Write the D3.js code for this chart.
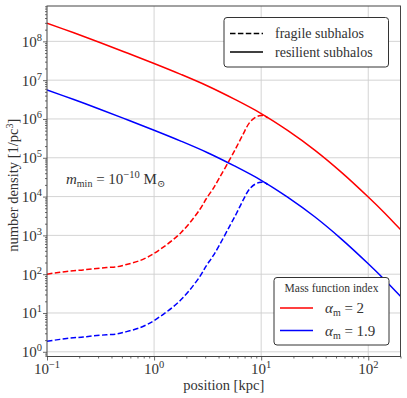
<!DOCTYPE html>
<html><head><meta charset="utf-8">
<script src="https://cdn.jsdelivr.net/npm/d3@7"></script>
<style>body{margin:0;background:#fff} text{font-family:"Liberation Serif","DejaVu Serif",serif;fill:#333}</style>
</head><body><svg id="c" width="407" height="398"></svg>
<script>
// ---- data ----
const positionsSolid = [0.1, 0.178, 0.316, 0.562, 1, 1.778, 3.162, 5.623, 10, 17.78, 31.62, 56.23, 100, 141.3, 200];
const resilientAlpha2 = [2.95e8, 1.66e8, 9.23e7, 5.01e7, 2.69e7, 1.41e7, 7.08e6, 3.24e6, 1.38e6, 5.01e5, 1.58e5, 4.22e4, 9.77e3, 3.85e3, 1.41e3];
const resilientAlpha19 = [5.62e6, 3.16e6, 1.76e6, 9.55e5, 5.13e5, 2.69e5, 1.35e5, 6.17e4, 2.63e4, 9.55e3, 3.02e3, 804, 186, 73.3, 26.9];
const positionsFragile = [0.1, 0.132, 0.176, 0.218, 0.270, 0.360, 0.446, 0.553, 0.736, 0.912, 1.0, 1.21, 1.50, 1.78, 2.15, 2.69, 3.08, 3.55, 4.09, 5.08, 5.89, 6.76, 7.76, 8.91, 10, 10.7, 11.5];
const fragileAlpha2 = [100, 112, 123, 129, 138, 148, 155, 178, 224, 295, 343, 490, 767, 1175, 2089, 4786, 8913, 15850, 30900, 89100, 190500, 398000, 794000, 1122000, 1230000, 1216000, 1072000];
const fragileAlpha19 = [1.86, 2.09, 2.29, 2.40, 2.57, 2.75, 2.88, 3.31, 4.17, 5.50, 6.38, 9.12, 14.3, 21.9, 38.9, 89.1, 166, 295, 575, 1738, 3715, 7943, 15490, 21380, 23440, 23170, 20420];
const xTickValues = [0.1, 1, 10, 100];
const xTickExps = ["\u22121", "0", "1", "2"];
const yTickValues = [1, 10, 100, 1e3, 1e4, 1e5, 1e6, 1e7, 1e8];
const yTickExps = ["0", "1", "2", "3", "4", "5", "6", "7", "8"];
const seriesNames = ["\u03b1", "\u03b1"];
const seriesValues = ["2", "1.9"];
const styleNames = ["fragile subhalos", "resilient subhalos"];

// ---- layout ----
const L = 47, R = 400.5, T = 6, B = 356.5;
const svg = d3.select("#c");
const x = d3.scaleLog().domain([0.1, 200]).range([L, R]);
const y = d3.scaleLog().domain([Math.pow(10, -0.121), Math.pow(10, 8.911)]).range([B, T]);

// minor ticks
const xMinor = [], yMinor = [];
for (let e = -1; e <= 2; e++) for (let k = 2; k <= 9; k++) { const v = k * Math.pow(10, e); if (v <= 200) xMinor.push(v); }
for (let e = -1; e <= 8; e++) for (let k = 2; k <= 9; k++) { const v = k * Math.pow(10, e); if (v >= y.domain()[0] && v <= y.domain()[1]) yMinor.push(v); }

// grid
const grid = svg.append("g").attr("stroke", "#cfcfcf").attr("stroke-width", 0.9);
grid.selectAll(".gx").data(xTickValues.filter(v => v > 0.1)).join("line")
  .attr("x1", d => x(d)).attr("x2", d => x(d)).attr("y1", T).attr("y2", B);
grid.selectAll(".gy").data(yTickValues).join("line")
  .attr("y1", d => y(d)).attr("y2", d => y(d)).attr("x1", L).attr("x2", R);

// curves
svg.append("clipPath").attr("id", "clip").append("rect").attr("x", L).attr("y", T).attr("width", R - L).attr("height", B - T);
const plot = svg.append("g").attr("clip-path", "url(#clip)");
const line = d3.line().x(d => x(d[0])).y(d => y(d[1])).curve(d3.curveCatmullRom.alpha(0.5));
const zip = (a, b) => a.map((v, i) => [v, b[i]]);
plot.append("path").attr("d", line(zip(positionsSolid, resilientAlpha2))).attr("fill", "none").attr("stroke", "#ff0000").attr("stroke-width", 1.5);
plot.append("path").attr("d", line(zip(positionsSolid, resilientAlpha19))).attr("fill", "none").attr("stroke", "#0000ff").attr("stroke-width", 1.5);
plot.append("path").attr("d", line(zip(positionsFragile, fragileAlpha2))).attr("fill", "none").attr("stroke", "#ff0000").attr("stroke-width", 1.5).attr("stroke-dasharray", "5.5,2.4");
plot.append("path").attr("d", line(zip(positionsFragile, fragileAlpha19))).attr("fill", "none").attr("stroke", "#0000ff").attr("stroke-width", 1.5).attr("stroke-dasharray", "5.5,2.4");

// axes
const axCol = "#444";
const gx = svg.append("g").attr("transform", `translate(0,${B})`);
gx.call(d3.axisBottom(x).tickValues(xTickValues).tickSize(4).tickFormat(""));
gx.append("g").call(d3.axisBottom(x).tickValues(xMinor).tickSize(2).tickFormat(""));
const gy = svg.append("g").attr("transform", `translate(${L},0)`);
gy.call(d3.axisLeft(y).tickValues(yTickValues).tickSize(4).tickFormat(""));
gy.append("g").call(d3.axisLeft(y).tickValues(yMinor).tickSize(2).tickFormat(""));
svg.selectAll(".domain").attr("stroke", "none");
svg.selectAll(".tick line").attr("stroke", axCol).attr("stroke-width", 0.8);
svg.append("rect").attr("x", L).attr("y", T).attr("width", R - L).attr("height", B - T).attr("fill", "none").attr("stroke", axCol).attr("stroke-width", 1);

// tick labels
xTickValues.forEach((v, i) => {
  const t = svg.append("text").attr("x", x(v)).attr("y", 374).attr("text-anchor", "middle").attr("font-size", 15);
  t.append("tspan").text("10");
  t.append("tspan").attr("dy", -6).attr("font-size", 10.5).text(xTickExps[i]);
});
yTickValues.forEach((v, i) => {
  const t = svg.append("text").attr("x", 42).attr("y", y(v) + 5.5).attr("text-anchor", "end").attr("font-size", 15);
  t.append("tspan").text("10");
  t.append("tspan").attr("dy", -6).attr("font-size", 10.5).text(yTickExps[i]);
});

// axis labels
svg.append("text").attr("x", (L + R) / 2).attr("y", 390).attr("text-anchor", "middle").attr("font-size", 14.5).text("position [kpc]");
const yl = svg.append("text").attr("transform", `translate(18,${(T + B) / 2 + 4}) rotate(-90)`).attr("text-anchor", "middle").attr("font-size", 14.5);
yl.append("tspan").text("number density [1/pc");
yl.append("tspan").attr("dy", -5).attr("font-size", 10).text("3");
yl.append("tspan").attr("dy", 5).text("]");

// annotation
const an = svg.append("text").attr("x", 66).attr("y", 184).attr("font-size", 15);
an.append("tspan").attr("font-style", "italic").text("m");
an.append("tspan").attr("dy", 3).attr("font-size", 10).text("min");
an.append("tspan").attr("dy", -3).text(" = 10");
an.append("tspan").attr("dy", -6).attr("font-size", 10.5).text("\u221210");
an.append("tspan").attr("dy", 6).text(" M");
an.append("tspan").attr("dy", 3).attr("font-size", 10).text("\u2299");

// legend 1
const lg1 = svg.append("g");
lg1.append("rect").attr("x", 224).attr("y", 17.5).attr("width", 164.5).attr("height", 49.5).attr("rx", 3).attr("fill", "#fff").attr("stroke", "#333").attr("stroke-width", 1);
styleNames.forEach((s, i) => {
  const yy = 33.5 + i * 18.5;
  lg1.append("line").attr("x1", 230).attr("x2", 263).attr("y1", yy).attr("y2", yy).attr("stroke", "#000").attr("stroke-width", 1.5).attr("stroke-dasharray", i === 0 ? "5.5,2.4" : null);
  lg1.append("text").attr("x", 275).attr("y", yy + 4.5).attr("font-size", 14).text(s);
});

// legend 2
const lg2 = svg.append("g");
lg2.append("rect").attr("x", 274).attr("y", 277.5).attr("width", 115).attr("height", 67.5).attr("rx", 3).attr("fill", "#fff").attr("stroke", "#333").attr("stroke-width", 1);
lg2.append("text").attr("x", 331.5).attr("y", 291.5).attr("text-anchor", "middle").attr("font-size", 11.5).text("Mass function index");
const cols = ["#ff0000", "#0000ff"];
seriesValues.forEach((v, i) => {
  const yy = 308 + i * 22.5;
  lg2.append("line").attr("x1", 280).attr("x2", 313).attr("y1", yy).attr("y2", yy).attr("stroke", cols[i]).attr("stroke-width", 1.5);
  const t = lg2.append("text").attr("x", 325).attr("y", yy + 5).attr("font-size", 15);
  t.append("tspan").attr("font-style", "italic").text(seriesNames[i]);
  t.append("tspan").attr("dy", 3).attr("font-size", 10).text("m");
  t.append("tspan").attr("dy", -3).text(" = " + v);
});
</script></body></html>
